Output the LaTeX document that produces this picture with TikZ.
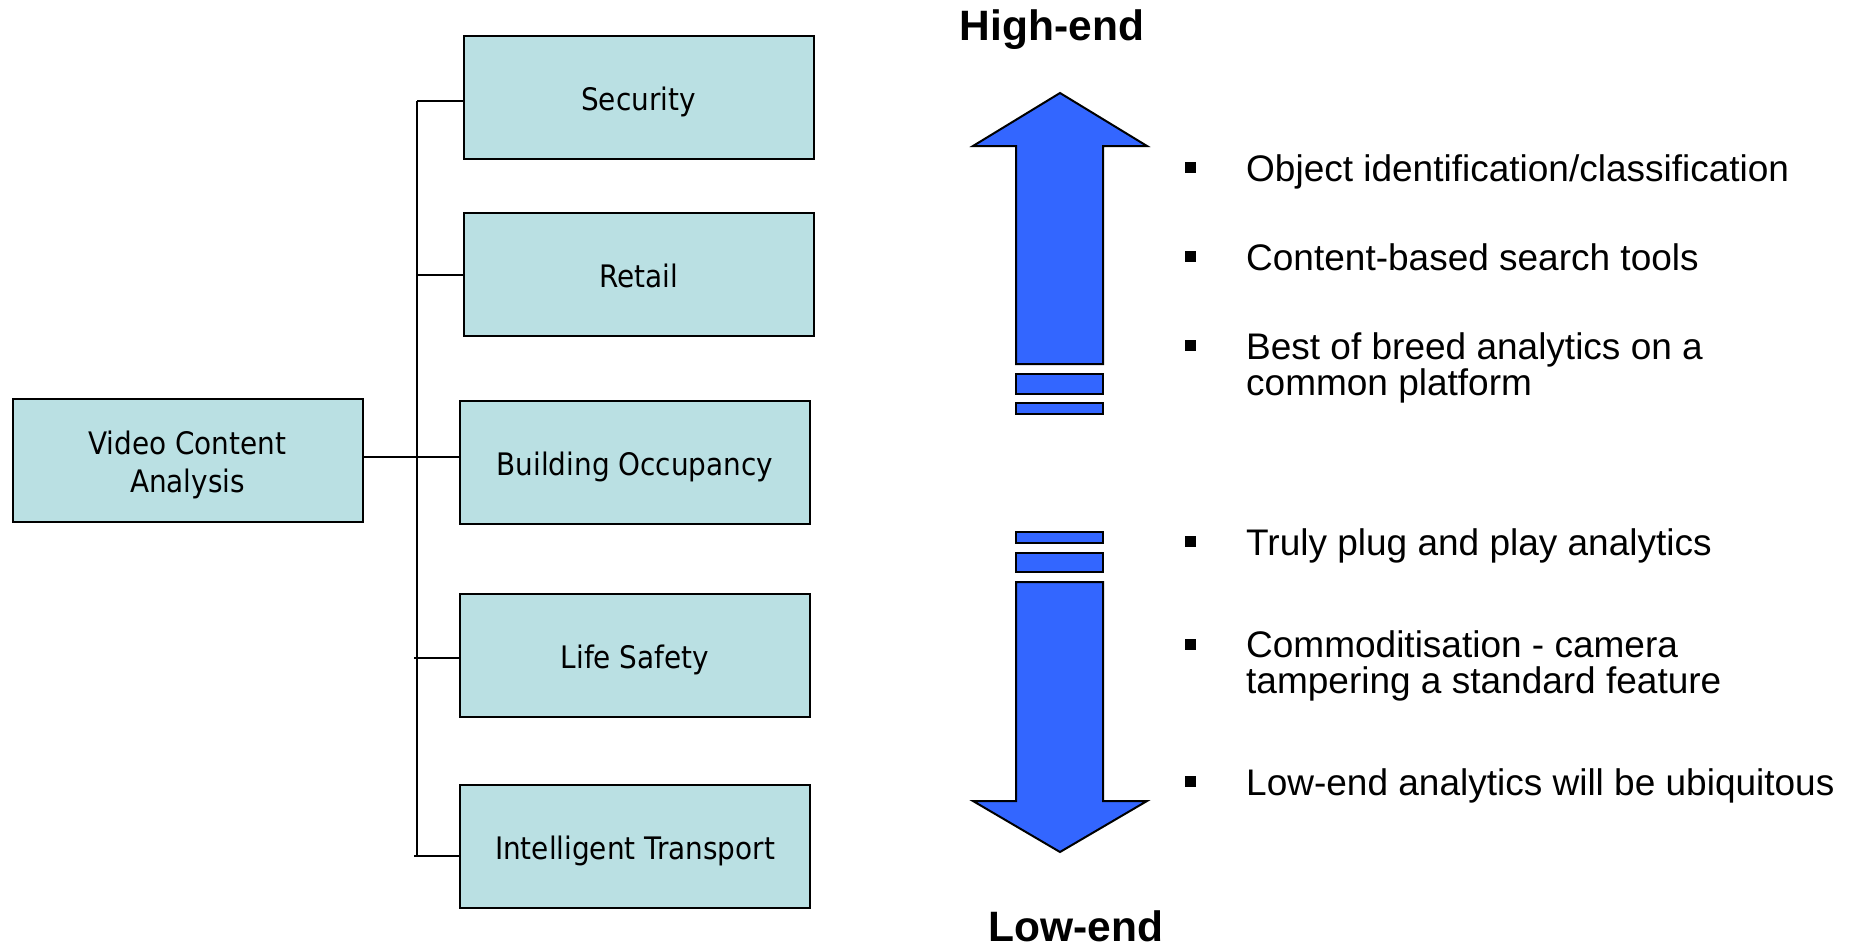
\documentclass[tikz,border=0pt]{standalone}
\usepackage{fontspec}
\setmainfont{Liberation Sans}
\newfontfamily\boxfont{DejaVu Sans Condensed}
\definecolor{boxfill}{HTML}{BAE0E3}
\definecolor{arrowblue}{HTML}{3366FF}
\begin{document}
\begin{tikzpicture}[x=1pt,y=-1pt,
  catbox/.style={draw=black, line width=2pt, fill=boxfill, minimum width=350pt, minimum height=123pt, inner sep=0pt, text height=26pt, text depth=0pt, font=\boxfont\fontsize{31}{38}\selectfont, align=center},
  link/.style={line width=2pt},
  bigarrow/.style={draw=black, line width=2pt, fill=arrowblue, line join=miter},
  item/.style={anchor=base west, font=\fontsize{37}{36}\selectfont, align=left, inner sep=0pt},
  bulletsq/.style={fill=black, minimum size=11pt, inner sep=0pt},
  title/.style={anchor=base, font=\bfseries\fontsize{42.5}{42.5}\selectfont, inner sep=0pt}]
\path[use as bounding box] (0,0) rectangle (1856,948);

% tree
\node[catbox, text height=63pt] (vca) at (187.5,460.5) {Video Content\\Analysis};
\node[catbox] (sec) at (638.5,97.5) {Security};
\node[catbox] (ret) at (638.5,274) {Retail};
\node[catbox] (bo) at (635,462) {Building Occupancy};
\node[catbox] (ls) at (635,655) {Life Safety};
\node[catbox] (it) at (635,846.5) {Intelligent Transport};

\coordinate (t1) at (417,101);
\coordinate (t2) at (417,275);
\coordinate (t3) at (417,457);
\coordinate (t4) at (414,658);
\coordinate (t5) at (414,856);
\draw[link] (t1) -- (417,856);
\draw[link] (t1) -- (sec.west |- t1);
\draw[link] (t2) -- (ret.west |- t2);
\draw[link] (vca.east |- t3) -- (bo.west |- t3);
\draw[link] (t4) -- (ls.west |- t4);
\draw[link] (t5) -- (it.west |- t5);

% arrows
\draw[bigarrow] (1060,93) -- (1147,146) -- (1103,146) -- (1103,364) -- (1016,364) -- (1016,146) -- (973,146) -- cycle;
\draw[bigarrow] (1016,374) rectangle (1103,394);
\draw[bigarrow] (1016,403) rectangle (1103,414);
\draw[bigarrow] (1016,532) rectangle (1103,543);
\draw[bigarrow] (1016,553) rectangle (1103,572);
\draw[bigarrow] (1016,582) -- (1103,582) -- (1103,801) -- (1147,801) -- (1060,852) -- (973,801) -- (1016,801) -- cycle;

\node[title] (high) at (1052,40) {High-end};
\node[title] (low) at (1076,941) {Low-end};

% bullets
\node[bulletsq] (b1) at (1190.5,167) {};
\node[bulletsq] (b2) at (1190.5,256) {};
\node[bulletsq] (b3) at (1190.5,345) {};
\node[bulletsq] (b4) at (1190.5,541) {};
\node[bulletsq] (b5) at (1190.5,644) {};
\node[bulletsq] (b6) at (1190.5,781) {};

\node[item] (i1) at (1246,181) {Object identification/classification};
\node[item] (i2) at (1246,270) {Content-based search tools};
\node[item] (i3) at (1246,395) {Best of breed analytics on a\\common platform};
\node[item] (i4) at (1246,555) {Truly plug and play analytics};
\node[item] (i5) at (1246,693) {Commoditisation - camera\\tampering a standard feature};
\node[item] (i6) at (1246,795) {Low-end analytics will be ubiquitous};
\end{tikzpicture}
\end{document}
